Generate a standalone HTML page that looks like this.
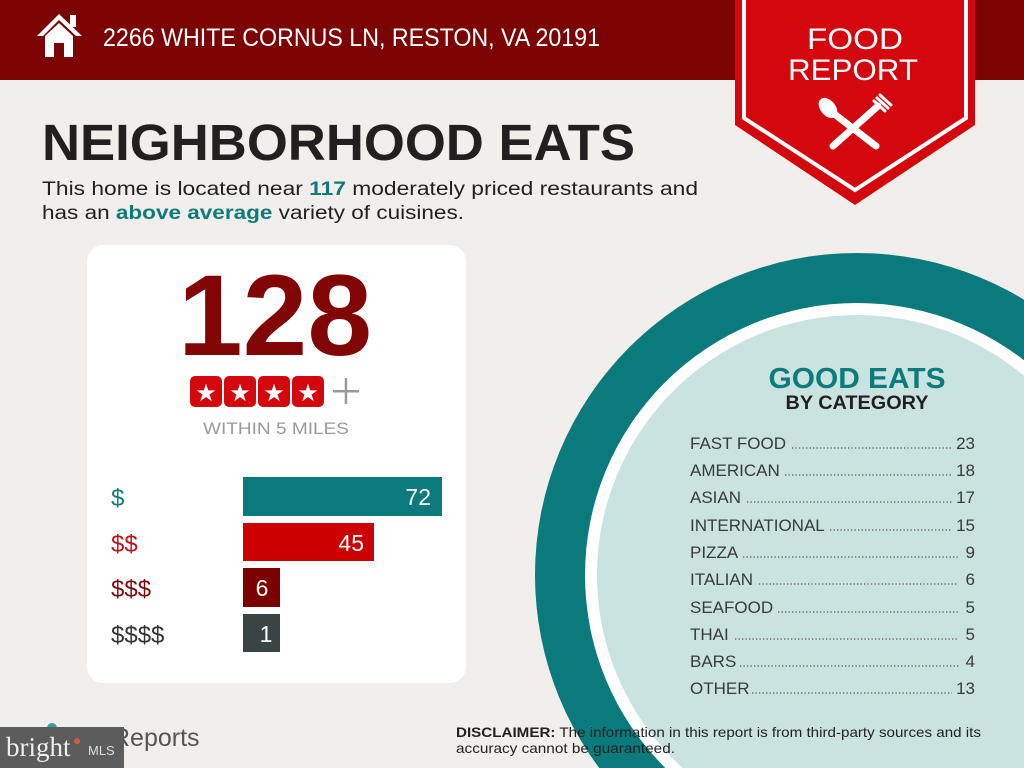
<!DOCTYPE html>
<html><head><meta charset="utf-8"><style>
html,body{margin:0;padding:0;background:#f1eeeb;width:1024px;height:768px;overflow:hidden;}
svg{display:block;font-family:"Liberation Sans",sans-serif;}
</style></head><body>
<svg width="1024" height="768" viewBox="0 0 1024 768" xmlns="http://www.w3.org/2000/svg">
<rect width="1024" height="768" fill="#f1eeeb"/>
<rect x="0" y="0" width="1024" height="80" fill="#7b0303"/>
<g fill="#fff">
<polygon points="37,36 59,14 82,36 76,36 59,20 43,36"/>
<rect x="70" y="15" width="6" height="12"/>
<path d="M45,36 L59,23 L73,36 L73,57 L64,57 L64,43 L54,43 L54,57 L45,57 Z"/>
</g>
<text x="103" y="46" font-size="25" fill="#fff" textLength="497" lengthAdjust="spacingAndGlyphs">2266 WHITE CORNUS LN, RESTON, VA 20191</text>
<polygon points="735,0 975,0 975,125 855,205 735,125" fill="#d4070f"/>
<polyline points="744,0 744,118 855,190 966,118 966,0" fill="none" stroke="#fff" stroke-width="4"/>
<text x="855" y="49" font-size="30" fill="#fff" text-anchor="middle" textLength="96" lengthAdjust="spacingAndGlyphs">FOOD</text>
<text x="853" y="80" font-size="30" fill="#fff" text-anchor="middle" textLength="130" lengthAdjust="spacingAndGlyphs">REPORT</text>
<g stroke="#fff" stroke-linecap="round" fill="#fff">
<line x1="833" y1="113" x2="876" y2="146" stroke-width="7"/>
<ellipse cx="828" cy="108" rx="7" ry="11" transform="rotate(-40 828 108)"/>
<line x1="878" y1="106" x2="833" y2="146" stroke-width="7"/>
<line x1="877" y1="98" x2="888" y2="108" stroke-width="3"/>
<line x1="874" y1="101" x2="885" y2="111" stroke-width="3"/>
<line x1="880" y1="95" x2="891" y2="105" stroke-width="3"/>
</g>
<text x="42" y="160" font-size="51" font-weight="bold" fill="#231f20" textLength="593" lengthAdjust="spacingAndGlyphs">NEIGHBORHOOD EATS</text>
<text x="42" y="195" font-size="19" fill="#231f20" textLength="656" lengthAdjust="spacingAndGlyphs">This home is located near <tspan fill="#0e7b7b" font-weight="bold">117</tspan> moderately priced restaurants and</text>
<text x="42" y="219" font-size="19" fill="#231f20" textLength="422" lengthAdjust="spacingAndGlyphs">has an <tspan fill="#0e7b7b" font-weight="bold">above average</tspan> variety of cuisines.</text>
<circle cx="857" cy="575" r="322" fill="#0b7a7c"/>
<circle cx="857" cy="575" r="272" fill="#fff"/>
<circle cx="857" cy="575" r="260" fill="#c9e3e0"/>
<rect x="87" y="245" width="379" height="438" rx="16" fill="#fff"/>
<text x="275" y="355" font-size="115" font-weight="bold" fill="#820505" text-anchor="middle" textLength="194" lengthAdjust="spacingAndGlyphs">128</text>
<g>
<rect x="190" y="376" width="32" height="31" rx="5" fill="#d4070f"/>
<rect x="224" y="376" width="32" height="31" rx="5" fill="#d4070f"/>
<rect x="258" y="376" width="32" height="31" rx="5" fill="#d4070f"/>
<rect x="292" y="376" width="32" height="31" rx="5" fill="#d4070f"/>
<g fill="#fff" font-size="24" text-anchor="middle">
<text x="206" y="401">★</text><text x="240" y="401">★</text><text x="274" y="401">★</text><text x="308" y="401">★</text>
</g>
<rect x="333" y="390" width="26" height="2.5" fill="#999"/>
<rect x="344.7" y="378" width="2.5" height="26" fill="#999"/>
</g>
<text x="276" y="434" font-size="17" fill="#999" text-anchor="middle" textLength="146" lengthAdjust="spacingAndGlyphs">WITHIN 5 MILES</text>
<text x="111" y="506" font-size="24" fill="#0e7b7b">$</text>
<text x="111" y="552" font-size="24" fill="#c0101a">$$</text>
<text x="111" y="597" font-size="24" fill="#7a0d10">$$$</text>
<text x="111" y="643" font-size="24" fill="#333">$$$$</text>
<rect x="243" y="477" width="199" height="39" fill="#0b7a7c"/>
<rect x="243" y="523" width="131" height="38" fill="#cc0000"/>
<rect x="243" y="568" width="37" height="39" fill="#7b0000"/>
<rect x="243" y="614" width="37" height="38" fill="#394444"/>
<g fill="#fff" font-size="23">
<text x="431" y="505" text-anchor="end">72</text>
<text x="364" y="551" text-anchor="end">45</text>
<text x="262" y="596" text-anchor="middle">6</text>
<text x="266" y="642" text-anchor="middle">1</text>
</g>
<text x="857" y="388" font-size="29" font-weight="bold" fill="#0e7b7b" text-anchor="middle" textLength="177" lengthAdjust="spacingAndGlyphs">GOOD EATS</text>
<text x="857" y="409" font-size="19" font-weight="bold" fill="#231f20" text-anchor="middle" textLength="143" lengthAdjust="spacingAndGlyphs">BY CATEGORY</text>
<g font-size="17" fill="#3a3a3a">
<text x="690" y="449">FAST FOOD</text><text x="975" y="449" text-anchor="end">23</text>
<text x="690" y="476">AMERICAN</text><text x="975" y="476" text-anchor="end">18</text>
<text x="690" y="503">ASIAN</text><text x="975" y="503" text-anchor="end">17</text>
<text x="690" y="531">INTERNATIONAL</text><text x="975" y="531" text-anchor="end">15</text>
<text x="690" y="558">PIZZA</text><text x="975" y="558" text-anchor="end">9</text>
<text x="690" y="585">ITALIAN</text><text x="975" y="585" text-anchor="end">6</text>
<text x="690" y="613">SEAFOOD</text><text x="975" y="613" text-anchor="end">5</text>
<text x="690" y="640">THAI</text><text x="975" y="640" text-anchor="end">5</text>
<text x="690" y="667">BARS</text><text x="975" y="667" text-anchor="end">4</text>
<text x="690" y="694">OTHER</text><text x="975" y="694" text-anchor="end">13</text>
</g>
<g stroke="#555" stroke-width="1.3" stroke-dasharray="1.3 2.2">
<line x1="792" y1="448" x2="951" y2="448"/>
<line x1="785" y1="475" x2="952" y2="475"/>
<line x1="747" y1="502" x2="952" y2="502"/>
<line x1="830" y1="530" x2="952" y2="530"/>
<line x1="743" y1="557" x2="958" y2="557"/>
<line x1="759" y1="584" x2="958" y2="584"/>
<line x1="778" y1="612" x2="958" y2="612"/>
<line x1="735" y1="639" x2="958" y2="639"/>
<line x1="740" y1="666" x2="960" y2="666"/>
<line x1="752" y1="693" x2="952" y2="693"/>
</g>
<text x="456" y="737" font-size="14" fill="#231f20" textLength="525" lengthAdjust="spacingAndGlyphs"><tspan font-weight="bold">DISCLAIMER:</tspan> The information in this report is from third-party sources and its</text>
<text x="456" y="753" font-size="14" fill="#231f20" textLength="219" lengthAdjust="spacingAndGlyphs">accuracy cannot be guaranteed.</text>
<circle cx="52" cy="728" r="5" fill="#2aa0a0"/>
<text x="112" y="746" font-size="25" fill="#555">Reports</text>
<rect x="0" y="727" width="124" height="41" fill="#5c5c5c"/>
<text x="6" y="756" font-size="27" fill="#eee" font-family="Liberation Serif, serif">bright</text>
<text x="88" y="755" font-size="13" fill="#ddd">MLS</text>
<circle cx="77" cy="741" r="3" fill="#d0603a"/>
</svg>
</body></html>
